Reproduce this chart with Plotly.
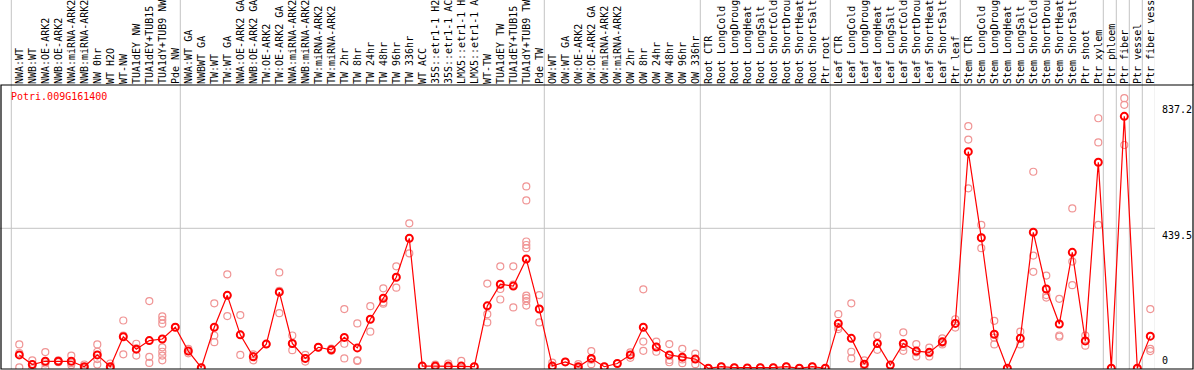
import plotly.graph_objects as go

gene = "Potri.009G161400"

categories = [
    "NWA:WT", "NWB:WT", "NWA:OE-ARK2", "NWB:OE-ARK2", "NWA:miRNA-ARK2", "NWB:miRNA-ARK2",
    "NW 0hr", "WT H2O", "WT-NW", "TUA1dEY NW", "TUA1dEY+TUB15 NW", "TUA1dY+TUB9 NW", "Pde NW",
    "NWA:WT GA", "NWBWT GA", "TW:WT", "TW:WT GA", "NWA:OE-ARK2 GA", "NWB:OE-ARK2 GA",
    "TW:OE-ARK2", "TW:OE-ARK2 GA", "NWA:miRNA-ARK2", "NWB:miRNA-ARK2", "TW:miRNA-ARK2",
    "TW:miRNA-ARK2 ", "TW 2hr", "TW 8hr", "TW 24hr", "TW 48hr", "TW 96hr", "TW 336hr",
    "WT ACC", "35S::etr1-1 H2O", "35S::etr1-1 ACC", "LMX5::etr1-1 H2O", "LMX5::etr1-1 ACC",
    "WT-TW", "TUA1dEY TW", "TUA1dEY+TUB15 TW", "TUA1dY+TUB9 TW", "Pde TW",
    "OW:WT", "OW:WT GA", "OW:OE-ARK2", "OW:OE-ARK2 GA", "OW:miRNA-ARK2", "OW:miRNA-ARK2 ",
    "OW 2hr", "OW 8hr", "OW 24hr", "OW 48hr", "OW 96hr", "OW 336hr",
    "Root CTR", "Root LongCold", "Root LongDrought", "Root LongHeat", "Root LongSalt",
    "Root ShortCold", "Root ShortDrought", "Root ShortHeat", "Root ShortSalt", "Ptr root",
    "Leaf CTR", "Leaf LongCold", "Leaf LongDrought", "Leaf LongHeat", "Leaf LongSalt",
    "Leaf ShortCold", "Leaf ShortDrought", "Leaf ShortHeat", "Leaf ShortSalt", "Ptr leaf",
    "Stem CTR", "Stem LongCold", "Stem LongDrought", "Stem LongHeat", "Stem LongSalt",
    "Stem ShortCold", "Stem ShortDrought", "Stem ShortHeat", "Stem ShortSalt", "Ptr shoot",
    "Ptr xylem", "Ptr phloem", "Ptr fiber", "Ptr vessel", "Ptr fiber vessel",
]

group_sizes = [13, 28, 12, 10, 10, 11, 1, 1, 1, 1]

mean_values = [
    42, 12, 22, 22, 22, 5, 42, 5, 99, 60, 87, 92, 129,
    54, 2, 129, 229, 105, 36, 76, 239, 78, 31, 66, 58, 97, 64, 154, 220, 286, 408,
    7, 7, 7, 7, 5, 196, 264, 258, 343, 186,
    7, 20, 5, 31, 5, 15, 42, 129, 67, 42, 35, 29,
    0, 5, 2, 1, 2, 2, 5, 0, 5, 0,
    141, 94, 13, 78, 10, 78, 54, 50, 83, 141,
    680, 410, 107, 0, 94, 427, 249, 139, 364, 86, 647, 0, 791, 0, 101,
]

replicates = [
    [75, 48, 3], [25, 12, 0], [51, 15, 0], [25, 22, 19], [40, 16, 10], [12, 3, 0],
    [75, 52, 29, 12], [15, 0, 0], [150, 103, 44], [77, 63, 40], [211, 36, 17],
    [163, 152, 140, 66, 52, 40, 25], [129],
    [61, 54, 47], [2], [204, 103, 82], [295, 229, 164], [167, 105, 42], [44, 38, 25],
    [76], [301, 243, 173], [103, 78, 57], [42, 31, 21], [66, 66], [62, 55],
    [186, 77, 31], [141, 25, 23], [195, 154, 115], [251, 207, 203], [320, 286, 253],
    [455, 408, 361],
    [7], [12, 4, 5], [15, 4, 2], [23, 0, 0], [5], [266, 170, 144], [320, 249, 216],
    [320, 263, 191], [571, 527, 398, 387, 377, 228, 220, 211, 197], [230, 186, 144],
    [18, 3, 0], [20], [13, 2, 0], [54, 27, 13], [5], [15], [50, 33], [248, 84, 55],
    [84, 67, 52], [76, 26, 19], [61, 28, 16], [46, 29, 13],
    [0], [5], [2], [1], [2], [2], [5], [0], [5], [0],
    [170, 130, 123], [204, 52, 31], [25, 10, 4], [103, 78, 58], [10], [113, 67, 55],
    [76, 50, 37], [65, 48, 37], [94, 80, 75], [154, 141, 128],
    [760, 718, 565], [450, 410, 377], [149, 96, 75], [0], [115, 94, 75],
    [617, 354, 303], [291, 230, 222], [218, 103, 99], [502, 335, 261], [103, 86, 71],
    [785, 709, 450], [0], [848, 827, 701], [0], [186, 61, 54],
]

y_ticks = [0, 439.5, 837.2]
y_tick_labels = ["0", "439.5", "837.2"]

# the reference shows only the first 14 characters of each column label
LABEL_CHARS = 14
shown_labels = [c[:LABEL_CHARS] for c in categories]

MONO = "DejaVu Sans Mono"
W, H = 1194, 370
ML, MR, MT, MB = 0, 39, 85, 1
plot_w = W - ML - MR
plot_h = H - MT - MB

x_idx = list(range(len(categories)))
rep_x, rep_y = [], []
for i, reps in enumerate(replicates):
    for v in reps:
        rep_x.append(i)
        rep_y.append(v)

fig = go.Figure()
fig.add_trace(go.Scatter(
    x=rep_x, y=rep_y, mode="markers",
    marker=dict(symbol="circle-open", size=7, color="#f09494", line=dict(width=1.2)),
    hoverinfo="skip", showlegend=False,
))
fig.add_trace(go.Scatter(
    x=x_idx, y=mean_values, mode="lines+markers",
    line=dict(color="#ff0000", width=1.2),
    marker=dict(symbol="circle-open", size=7, color="#ff0000", line=dict(width=2)),
    showlegend=False,
))

shapes = []
start = 0
bounds = [0]
for g in group_sizes:
    start += g
    bounds.append(start)
top_ext = 1 + MT / plot_h
for b in bounds:
    shapes.append(dict(type="line", xref="x", yref="paper", x0=b - 0.615, x1=b - 0.615,
                       y0=0, y1=top_ext, line=dict(color="#c4c4c4", width=1), layer="below"))
shapes.append(dict(type="line", xref="paper", yref="y", x0=0, x1=1, y0=y_ticks[1], y1=y_ticks[1],
                   line=dict(color="#c4c4c4", width=1), layer="below"))
right_px = (W - 1) / plot_w
shapes.append(dict(type="rect", xref="paper", yref="paper", x0=1 / plot_w, x1=right_px,
                   y0=0, y1=1, line=dict(color="black", width=1.2)))
shapes.append(dict(type="line", xref="paper", yref="paper", x0=right_px, x1=right_px,
                   y0=1, y1=top_ext, line=dict(color="black", width=1.2)))

annotations = [dict(text=gene, xref="paper", yref="paper", x=9 / plot_w, y=1 - 12 / plot_h,
                    xanchor="left", yanchor="middle", showarrow=False,
                    font=dict(family=MONO, size=10, color="#ff0000"))]
for v, t in zip(y_ticks, y_tick_labels):
    annotations.append(dict(text=t, xref="paper", yref="y", x=1, xshift=5, y=v,
                            xanchor="left", yanchor="bottom" if v == 0 else "top",
                            showarrow=False, font=dict(family=MONO, size=10, color="black")))

x_lo = -19.3 / 13
x_hi = x_lo + plot_w / 13
y_lo = -0.7 * 3.1393
y_hi = y_lo + plot_h * 3.1393

fig.update_layout(
    width=W, height=H,
    margin=dict(l=ML, r=MR, t=MT, b=MB, pad=0, autoexpand=False),
    paper_bgcolor="white", plot_bgcolor="white",
    shapes=shapes, annotations=annotations,
    xaxis=dict(range=[x_lo, x_hi], side="top", tickmode="array", tickvals=x_idx,
               ticktext=shown_labels, tickangle=-90, ticks="", automargin=False,
               tickfont=dict(family=MONO, size=10, color="black"),
               showgrid=False, zeroline=False, showline=False, fixedrange=True),
    yaxis=dict(range=[y_lo, y_hi], showticklabels=False, ticks="", showgrid=False,
               automargin=False, zeroline=False, showline=False, fixedrange=True),
)

fig.write_html(
    "out.html",
    config={"displayModeBar": False},
    post_script="document.body.style.margin='0';document.body.style.padding='0';"
                "document.body.style.overflow='hidden';",
)
